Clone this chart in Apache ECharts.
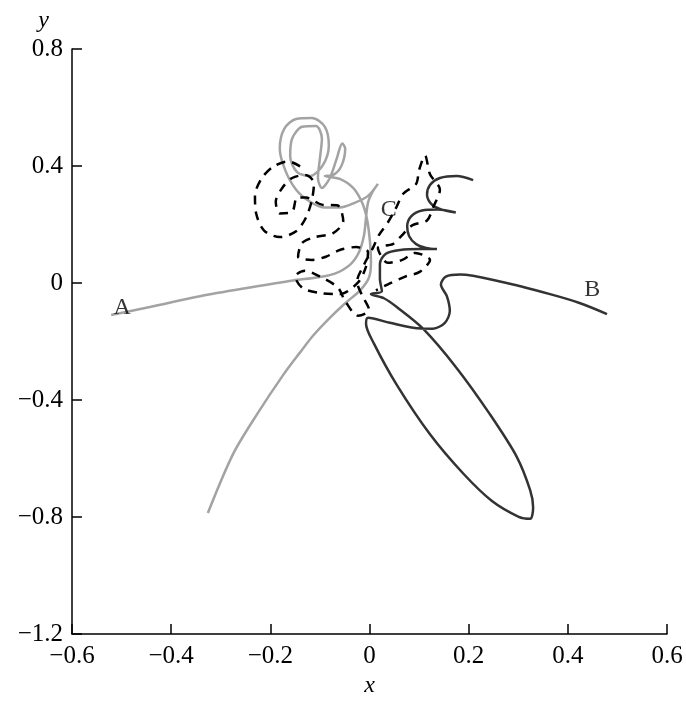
<!DOCTYPE html>
<html>
<head>
<meta charset="utf-8">
<script src="https://cdn.jsdelivr.net/npm/echarts@6/dist/echarts.min.js"></script>
<style>
  html, body { margin: 0; padding: 0; background: #fff; }
  #chart { width: 686px; height: 703px; }
</style>
</head>
<body>
<div id="chart"></div>
<script>
// Axis ticks
const xTicks = [-0.6, -0.4, -0.2, 0, 0.2, 0.4, 0.6];
const yTicks = [-1.2, -0.8, -0.4, 0, 0.4, 0.8];

// Trajectory A (grey): from end A up to the cusp, round the loops, then down-left
const trajA = [
  [-0.521, -0.109], [-0.443, -0.082], [-0.342, -0.045], [-0.241, -0.015], [-0.154, 0.009],
  [-0.106, 0.019], [-0.070, 0.032], [-0.039, 0.063], [-0.021, 0.106], [-0.011, 0.164],
  [-0.007, 0.224], [-0.003, 0.275], [0.005, 0.308], [0.017, 0.339], [-0.003, 0.298],
  [-0.029, 0.275], [-0.060, 0.258], [-0.090, 0.258], [-0.120, 0.278], [-0.148, 0.319],
  [-0.170, 0.386], [-0.181, 0.460], [-0.172, 0.527], [-0.148, 0.561], [-0.116, 0.564],
  [-0.090, 0.534], [-0.082, 0.470], [-0.094, 0.403], [-0.120, 0.366], [-0.146, 0.379],
  [-0.160, 0.433], [-0.156, 0.494], [-0.136, 0.534], [-0.108, 0.537], [-0.096, 0.494],
  [-0.100, 0.426], [-0.104, 0.359], [-0.096, 0.325], [-0.080, 0.359], [-0.066, 0.426],
  [-0.055, 0.477], [-0.049, 0.460], [-0.057, 0.399], [-0.074, 0.369], [-0.090, 0.366],
  [-0.060, 0.356], [-0.033, 0.325], [-0.015, 0.275], [-0.005, 0.218], [0.001, 0.140],
  [0.003, 0.073], [-0.001, 0.019], [-0.019, -0.025], [-0.049, -0.069], [-0.080, -0.119],
  [-0.114, -0.180], [-0.140, -0.237], [-0.174, -0.314], [-0.227, -0.449], [-0.275, -0.584],
  [-0.326, -0.786]
];

// Trajectory C (black dashed)
const trajC = [
  [-0.140, 0.399], [-0.164, 0.416], [-0.193, 0.399], [-0.217, 0.359], [-0.231, 0.298],
  [-0.229, 0.241], [-0.213, 0.180], [-0.181, 0.157], [-0.148, 0.177], [-0.128, 0.224],
  [-0.116, 0.285], [-0.112, 0.342], [-0.130, 0.369], [-0.156, 0.359], [-0.176, 0.325],
  [-0.189, 0.278], [-0.181, 0.238], [-0.156, 0.244], [-0.146, 0.292], [-0.128, 0.292],
  [-0.096, 0.268], [-0.064, 0.265], [-0.053, 0.211], [-0.074, 0.170], [-0.110, 0.157],
  [-0.136, 0.137], [-0.144, 0.090], [-0.116, 0.079], [-0.088, 0.090], [-0.060, 0.113],
  [-0.027, 0.123], [-0.003, 0.106], [-0.007, 0.056], [-0.023, 0.002], [-0.060, -0.038],
  [-0.096, -0.035], [-0.134, -0.018], [-0.150, 0.022], [-0.130, 0.042], [-0.100, 0.022],
  [-0.064, -0.015], [-0.049, -0.062], [-0.023, -0.112], [-0.001, -0.092], [-0.015, -0.042],
  [-0.025, 0.005], [-0.011, 0.063], [0.007, 0.120], [0.019, 0.164], [0.037, 0.207],
  [0.053, 0.255], [0.068, 0.305], [0.094, 0.339], [0.100, 0.386], [0.112, 0.436],
  [0.122, 0.372], [0.142, 0.319], [0.128, 0.258], [0.116, 0.214], [0.086, 0.197],
  [0.062, 0.157], [0.047, 0.133], [0.017, 0.120], [0.037, 0.069], [0.066, 0.079],
  [0.092, 0.103], [0.122, 0.079], [0.102, 0.039], [0.072, 0.022], [0.041, -0.001],
  [0.013, -0.025]
];

// Trajectory B (dark): claws at the top, the long loop, then out to end B
const trajB = [
  [0.209, 0.352], [0.176, 0.366], [0.142, 0.359], [0.122, 0.335], [0.116, 0.302],
  [0.126, 0.268], [0.146, 0.251], [0.174, 0.241], [0.138, 0.251], [0.106, 0.248],
  [0.084, 0.228], [0.076, 0.194], [0.080, 0.160], [0.094, 0.133], [0.114, 0.120],
  [0.136, 0.116], [0.102, 0.116], [0.062, 0.113], [0.033, 0.100], [0.021, 0.066],
  [0.021, 0.015], [0.025, -0.028], [0.003, -0.038], [0.029, -0.052], [0.055, -0.082],
  [0.108, -0.156], [0.176, -0.291], [0.243, -0.449], [0.297, -0.594], [0.324, -0.708],
  [0.330, -0.766], [0.324, -0.806], [0.301, -0.799], [0.247, -0.745], [0.189, -0.651],
  [0.122, -0.517], [0.055, -0.348], [0.009, -0.207], [-0.007, -0.139], [-0.003, -0.119],
  [0.041, -0.136], [0.088, -0.153], [0.128, -0.156], [0.152, -0.136], [0.162, -0.096],
  [0.156, -0.045], [0.144, -0.005], [0.154, 0.022], [0.183, 0.029], [0.263, 0.005],
  [0.364, -0.038], [0.425, -0.069], [0.479, -0.106]
];

// Letter labels placed next to their curves
const letters = [
  { name: 'A', value: [-0.499, -0.086] },
  { name: 'B', value: [0.449, -0.022] },
  { name: 'C', value: [0.039, 0.251] }
];

const serif = 'Liberation Serif';

function tickText(v) {
  const r = Math.round(v * 10) / 10;
  return r === 0 ? '0' : (r < 0 ? '\u2212' + Math.abs(r) : String(r));
}

const chart = echarts.init(document.getElementById('chart'), null, { renderer: 'canvas' });

chart.setOption({
  animation: false,
  backgroundColor: '#ffffff',
  textStyle: { fontFamily: serif },
  grid: { left: 72, right: 19, top: 49, bottom: 60, containLabel: false },
  xAxis: {
    type: 'value',
    min: xTicks[0],
    max: xTicks[xTicks.length - 1],
    interval: 0.2,
    name: 'x',
    nameLocation: 'middle',
    nameGap: 36,
    nameTextStyle: { fontFamily: serif, fontStyle: 'italic', fontSize: 24, color: '#000' },
    axisLine: { onZero: false, lineStyle: { color: '#000', width: 1.5 } },
    axisTick: { inside: true, length: 10, lineStyle: { color: '#000', width: 1.5 } },
    axisLabel: { margin: 10, fontFamily: serif, fontSize: 25, color: '#000', formatter: tickText },
    splitLine: { show: false }
  },
  yAxis: {
    type: 'value',
    min: yTicks[0],
    max: yTicks[yTicks.length - 1],
    interval: 0.4,
    name: 'y',
    nameLocation: 'end',
    nameGap: 16,
    nameTextStyle: { fontFamily: serif, fontStyle: 'italic', fontSize: 24, color: '#000', align: 'right', padding: [0, 23, 0, 0] },
    axisLine: { onZero: false, lineStyle: { color: '#000', width: 1.5 } },
    axisTick: { inside: true, length: 10, lineStyle: { color: '#000', width: 1.5 } },
    axisLabel: { margin: 9, fontFamily: serif, fontSize: 25, color: '#000', formatter: tickText },
    splitLine: { show: false }
  },
  series: [
    {
      type: 'line', data: trajA, showSymbol: false, smooth: 0.3,
      lineStyle: { color: '#a3a3a3', width: 2.5 }, z: 2
    },
    {
      type: 'line', data: trajB, showSymbol: false, smooth: 0.3,
      lineStyle: { color: '#333333', width: 2.5 }, z: 3
    },
    {
      type: 'line', data: trajC, showSymbol: false, smooth: 0.3,
      lineStyle: { color: '#000000', width: 2.5, type: [9, 7] }, z: 4
    },
    {
      type: 'scatter', data: letters, symbolSize: 0, z: 5,
      label: {
        show: true, position: 'inside', formatter: p => p.name,
        fontFamily: serif, fontSize: 24, color: '#000'
      }
    }
  ]
});
</script>
</body>
</html>
